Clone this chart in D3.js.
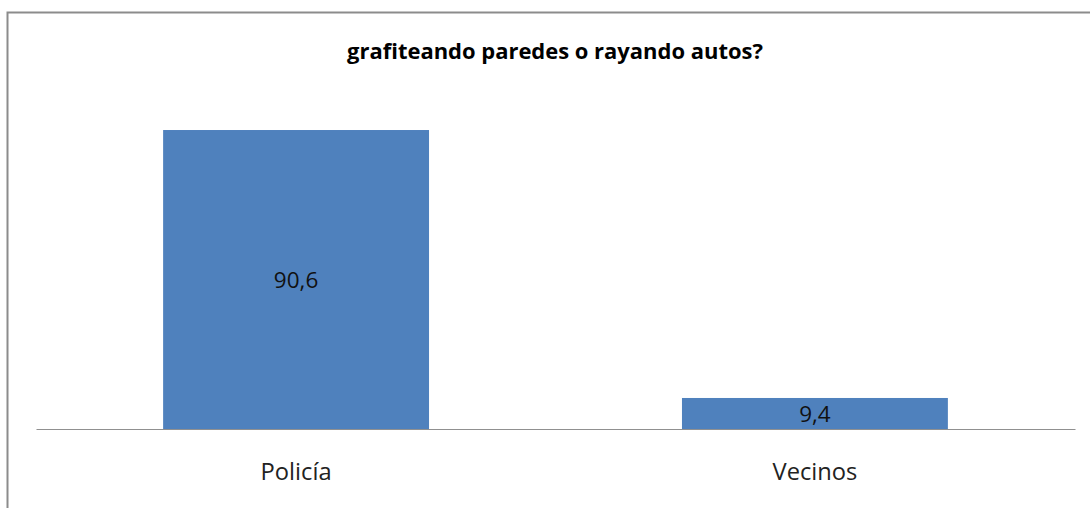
<!DOCTYPE html>
<html><head><meta charset="utf-8">
<script src="https://cdn.jsdelivr.net/npm/d3@7"></script>
<style>html,body{margin:0;padding:0;background:#fff;overflow:hidden}</style>
</head><body>
<script>
const categories = ["Policía", "Vecinos"];
const values = [90.6, 9.4];
const valueLabels = ["90,6", "9,4"];
const title = "grafiteando paredes o rayando autos?";

const W = 1090, H = 508;
const svg = d3.select("body").append("svg").attr("width", W).attr("height", H);
svg.append("rect").attr("x", 7.5).attr("y", 12.5).attr("width", 1100).attr("height", 600)
  .attr("fill", "#fff").attr("stroke", "#8c8c8c").attr("stroke-width", 2);

const font = "'Open Sans', sans-serif";
function fit(sel, target) {
  const w = sel.node().getComputedTextLength();
  const fs = parseFloat(sel.attr("font-size"));
  sel.attr("font-size", (fs * target / w).toFixed(2));
}

const t = svg.append("text").attr("x", 555).attr("y", 59).attr("text-anchor", "middle")
  .attr("font-family", font).attr("font-weight", "bold").attr("font-size", 20)
  .attr("fill", "#000").text(title);
fit(t, 416);

const x = d3.scaleBand().domain(categories).range([36, 1075]).paddingInner(0.4875).paddingOuter(0.245);
const y = d3.scaleLinear().domain([0, 100]).range([429, 99]);

svg.selectAll("rect.bar").data(values).join("rect").attr("class", "bar")
  .attr("x", (d, i) => x(categories[i])).attr("width", x.bandwidth())
  .attr("y", d => y(d)).attr("height", d => y(0) - y(d)).attr("fill", "#4f81bd");

const axis = svg.append("g").attr("transform", `translate(0,${y(0)})`)
  .call(d3.axisBottom(x).tickSize(0).tickPadding(0));
axis.select(".domain").attr("stroke", "#909090").attr("stroke-width", 1.2);
axis.selectAll("text").attr("font-family", font).attr("font-size", 21).attr("fill", "#222")
  .attr("y", 51).attr("dy", 0);
fit(axis.selectAll("text").filter(d => d === "Policía"), 71);
axis.selectAll("text").attr("font-size", axis.selectAll("text").filter(d => d === "Policía").attr("font-size"));

svg.selectAll("text.val").data(values).join("text").attr("class", "val")
  .attr("x", (d, i) => x(categories[i]) + x.bandwidth() / 2)
  .attr("y", d => (y(d) + y(0)) / 2).attr("dy", "0.36em").attr("text-anchor", "middle")
  .attr("font-family", font).attr("font-size", 22.5).attr("fill", "#111")
  .text((d, i) => valueLabels[i]);
</script>
</body></html>
